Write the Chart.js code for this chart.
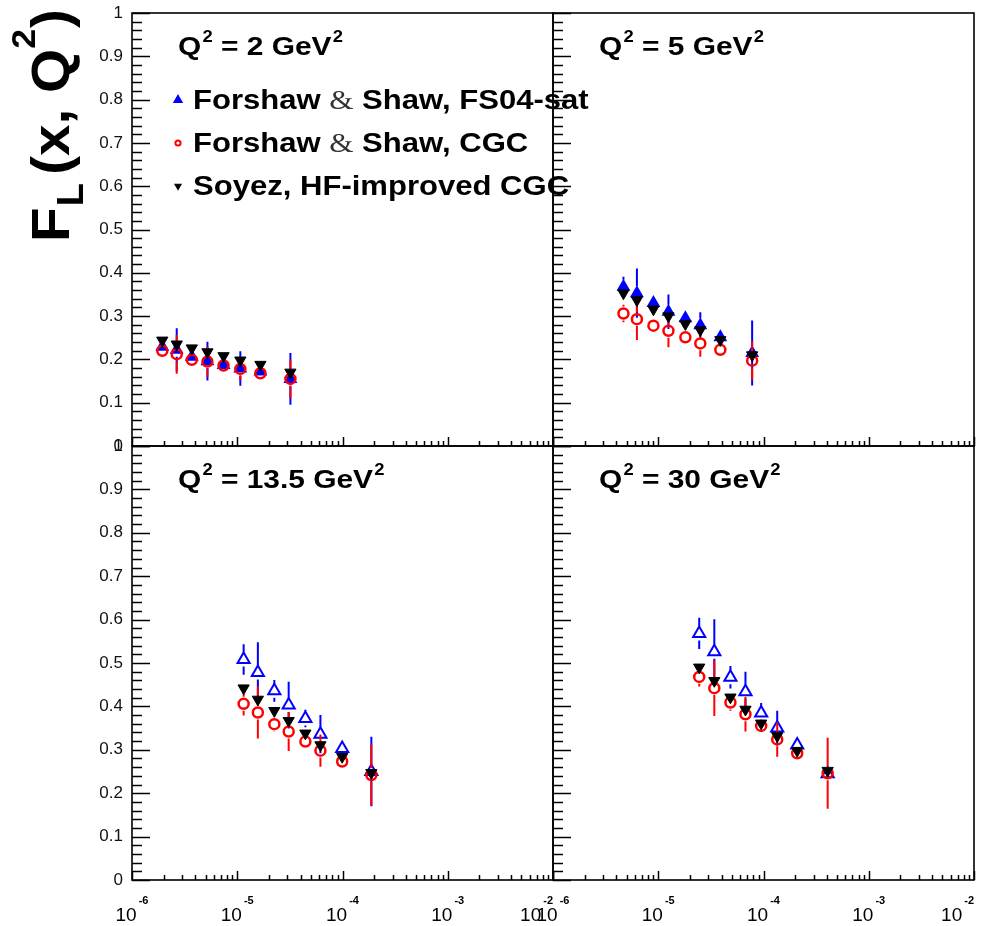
<!DOCTYPE html>
<html>
<head>
<meta charset="utf-8">
<script src="https://cdn.jsdelivr.net/npm/chart.js@4.4.1/dist/chart.umd.min.js"></script>
<style>
  html, body { margin: 0; padding: 0; background: #fff; }
  #wrap { position: relative; width: 984px; height: 926px; overflow: hidden; }
  #wrap canvas { position: absolute; left: 0; top: 0; }
</style>
</head>
<body>
<div id="wrap">
  <canvas id="c1" width="984" height="926"></canvas>
  <canvas id="c2" width="984" height="926"></canvas>
  <canvas id="c3" width="984" height="926"></canvas>
  <canvas id="c4" width="984" height="926"></canvas>
</div>
<script>
// ---- data ----
// Q2 = 2 GeV2
const x_q2 = [1.94e-6, 2.66e-6, 3.70e-6, 5.21e-6, 7.41e-6, 1.07e-5, 1.66e-5, 3.2e-5];
const fs04_q2 = [0.229, 0.222, 0.206, 0.196, 0.187, 0.179, 0.172, 0.155];
const fs04Err_q2 = [0.012, 0.05, 0.012, 0.045, 0.01, 0.04, 0.01, 0.06];
const cgc_q2 = [0.220, 0.212, 0.199, 0.195, 0.186, 0.178, 0.168, 0.155];
const cgcErr_q2 = [0.015, 0.045, 0.012, 0.035, 0.01, 0.026, 0.008, 0.045];
const soyez_q2 = [0.244, 0.235, 0.226, 0.217, 0.208, 0.198, 0.188, 0.170];

// Q2 = 5 GeV2
const x_q5 = [4.67e-6, 6.27e-6, 9.0e-6, 1.25e-5, 1.81e-5, 2.51e-5, 3.89e-5, 7.8e-5];
const fs04_q5 = [0.368, 0.353, 0.330, 0.310, 0.295, 0.279, 0.251, 0.215];
const fs04Err_q5 = [0.023, 0.057, 0.015, 0.04, 0.01, 0.03, 0.012, 0.075];
const cgc_q5 = [0.306, 0.293, 0.278, 0.266, 0.251, 0.237, 0.222, 0.197];
const cgcErr_q5 = [0.02, 0.048, 0.01, 0.038, 0.01, 0.031, 0.01, 0.045];
const soyez_q5 = [0.353, 0.337, 0.316, 0.300, 0.282, 0.268, 0.245, 0.210];

// Q2 = 13.5 GeV2
const x_q13 = [1.15e-5, 1.57e-5, 2.25e-5, 3.08e-5, 4.44e-5, 6.17e-5, 9.93e-5, 1.88e-4];
const fs04_q13 = [0.508, 0.478, 0.436, 0.403, 0.372, 0.336, 0.303, 0.250];
const fs04Err_q13 = [0.035, 0.07, 0.025, 0.054, 0.02, 0.044, 0.016, 0.08];
const cgc_q13 = [0.406, 0.386, 0.359, 0.342, 0.319, 0.298, 0.273, 0.242];
const cgcErr_q13 = [0.027, 0.06, 0.017, 0.045, 0.015, 0.037, 0.01, 0.07];
const soyez_q13 = [0.442, 0.416, 0.390, 0.367, 0.338, 0.311, 0.284, 0.247];

// Q2 = 30 GeV2
const x_q30 = [2.45e-5, 3.41e-5, 4.85e-5, 6.74e-5, 9.5e-5, 1.35e-4, 2.09e-4, 4.07e-4];
const fs04_q30 = [0.568, 0.526, 0.467, 0.434, 0.385, 0.350, 0.311, 0.245];
const fs04Err_q30 = [0.036, 0.075, 0.026, 0.046, 0.023, 0.04, 0.01, 0.015];
const cgc_q30 = [0.468, 0.442, 0.409, 0.382, 0.355, 0.324, 0.292, 0.246];
const cgcErr_q30 = [0.022, 0.064, 0.019, 0.04, 0.01, 0.04, 0.01, 0.082];
const soyez_q30 = [0.490, 0.459, 0.421, 0.393, 0.361, 0.332, 0.298, 0.252];

// axis ticks and labels
const xDecades = [1e-6, 1e-5, 1e-4, 1e-3, 1e-2];
const xDecadeLabels = ['-6', '-5', '-4', '-3', '-2'];
const yMajor = [0, 0.1, 0.2, 0.3, 0.4, 0.5, 0.6, 0.7, 0.8, 0.9, 1];
const yMajorLabels = ['0', '0.1', '0.2', '0.3', '0.4', '0.5', '0.6', '0.7', '0.8', '0.9', '1'];
const seriesNames = ['Forshaw & Shaw, FS04-sat', 'Forshaw & Shaw, CGC', 'Soyez, HF-improved CGC'];
const panelTitles = ['2', '5', '13.5', '30'];

// ---- drawing ----
const W = 984, H = 926;
const GAP = 0.016;      // error bar stops at the marker edge
const SX = 1.15;        // ROOT text looks a bit wide
const SANS = '"Liberation Sans", Arial, Helvetica, sans-serif';

function errorBars(xs, ys, es) {
  const pts = [];
  xs.forEach((x, i) => {
    if (es[i] <= GAP) return;
    pts.push({x: x, y: ys[i] - es[i]}, {x: x, y: ys[i] - GAP}, {x: x, y: null});
    pts.push({x: x, y: ys[i] + GAP}, {x: x, y: ys[i] + es[i]}, {x: x, y: null});
  });
  return pts;
}
const pts = (xs, ys) => xs.map((x, i) => ({x: x, y: ys[i]}));

function rich(ctx, parts, x, y, sx) {
  ctx.save();
  ctx.translate(x, y);
  ctx.scale(sx, 1);
  let cx = 0;
  parts.forEach(p => {
    ctx.font = p.f;
    ctx.fillStyle = p.c || '#000';
    ctx.fillText(p.t, cx, p.dy || 0);
    cx += ctx.measureText(p.t).width + (p.gap || 0);
  });
  ctx.restore();
}

function marker(ctx, style, x, y, r, color, fill, bw, rot) {
  ctx.save();
  ctx.translate(x, y);
  ctx.rotate((rot || 0) * Math.PI / 180);
  ctx.beginPath();
  if (style === 'triangle') {
    for (let k = 0; k < 3; k++) {
      const a = -Math.PI / 2 + k * 2 * Math.PI / 3;
      const px = Math.cos(a) * r, py = Math.sin(a) * r;
      k ? ctx.lineTo(px, py) : ctx.moveTo(px, py);
    }
    ctx.closePath();
  } else {
    ctx.arc(0, 0, r, 0, Math.PI * 2);
  }
  ctx.lineWidth = bw;
  ctx.strokeStyle = color;
  if (fill) { ctx.fillStyle = color; ctx.fill(); }
  ctx.stroke();
  ctx.restore();
}

function rootAxes(panel) {
  return {
    id: 'rootAxes' + panel.id,
    afterDraw(chart) {
      const {ctx, chartArea: a, scales: {x, y}} = chart;
      ctx.save();
      ctx.strokeStyle = '#000';
      ctx.lineWidth = 1.6;
      ctx.strokeRect(a.left, a.top, a.right - a.left, a.bottom - a.top);

      // y ticks, inward on the left edge
      ctx.lineWidth = 1.5;
      for (let k = 0; k <= 50; k++) {
        const py = Math.round(y.getPixelForValue(k / 50)) + 0.5;
        const len = k % 5 === 0 ? 18 : 10;
        ctx.beginPath(); ctx.moveTo(a.left, py); ctx.lineTo(a.left + len, py); ctx.stroke();
      }
      // x ticks, inward on the bottom edge
      xDecades.forEach((d, i) => {
        for (let m = 1; m <= 9; m++) {
          if (m > 1 && i === xDecades.length - 1) break;
          const px = Math.round(x.getPixelForValue(d * m)) + 0.5;
          const len = m === 1 ? 9 : 5;
          ctx.beginPath(); ctx.moveTo(px, a.bottom); ctx.lineTo(px, a.bottom - len); ctx.stroke();
        }
      });

      // y labels on left panels
      if (panel.left) {
        ctx.font = '17px ' + SANS;
        ctx.fillStyle = '#111';
        ctx.textAlign = 'right';
        ctx.textBaseline = 'middle';
        yMajor.forEach((v, i) => ctx.fillText(yMajorLabels[i], a.left - 9, y.getPixelForValue(v)));
        ctx.textAlign = 'left';
        ctx.textBaseline = 'alphabetic';
      }
      // x labels on bottom panels
      if (panel.bottom) {
        xDecades.forEach((d, i) => {
          const px = x.getPixelForValue(d);
          ctx.font = '19px ' + SANS;
          const w1 = ctx.measureText('10').width;
          ctx.font = 'bold 11px ' + SANS;
          const w2 = ctx.measureText(xDecadeLabels[i]).width;
          const tot = w1 + 2 + w2;
          let x0 = px - tot / 2;
          if (i === xDecades.length - 1) x0 = a.right - tot;
          rich(ctx, [
            {t: '10', f: '19px ' + SANS, gap: 2},
            {t: xDecadeLabels[i], f: 'bold 11px ' + SANS, dy: -17}
          ], x0, 921, 1);
        });
      }

      // panel title
      const tf = 'bold 26px ' + SANS, sf = 'bold 16px ' + SANS;
      rich(ctx, [
        {t: 'Q', f: tf, gap: 1},
        {t: '2', f: sf, dy: -13},
        {t: ' = ' + panelTitles[panel.n] + ' GeV', f: tf, gap: 1},
        {t: '2', f: sf, dy: -13}
      ], a.left + 46, a.top + 42, SX);

      if (panel.legend) {
        const lf = 'bold 27px ' + SANS, amp = '27px "Liberation Serif", "Times New Roman", serif';
        const rows = [a.top + 96, a.top + 139, a.top + 182];
        rows.forEach((ry, i) => {
          const name = seriesNames[i];
          const parts = name.indexOf('&') >= 0
            ? [{t: name.split('&')[0], f: lf}, {t: '&', f: amp, c: '#333'}, {t: name.split('&')[1], f: lf}]
            : [{t: name, f: lf}];
          rich(ctx, parts, a.left + 61, ry, SX);
        });
        marker(ctx, 'triangle', a.left + 46, rows[0] - 9, 4.5, '#0000ff', true, 1.5, 0);
        marker(ctx, 'circle', a.left + 46, rows[1] - 9, 2.6, '#ff0000', false, 2, 0);
        marker(ctx, 'triangle', a.left + 46, rows[2] - 9, 3.5, '#000', true, 1.2, 180);
      }

      // axis title
      if (panel.n === 0) {
        ctx.save();
        ctx.translate(69, 242);
        ctx.rotate(-Math.PI / 2);
        rich(ctx, [
          {t: 'F', f: 'bold 54px ' + SANS, gap: 1},
          {t: 'L', f: 'bold 36px ' + SANS, dy: 14, gap: 8},
          {t: '(x, Q', f: 'bold 54px ' + SANS},
          {t: '2', f: 'bold 34px ' + SANS, dy: -34, gap: 1},
          {t: ')', f: 'bold 54px ' + SANS}
        ], 0, 0, 1.05);
        ctx.restore();
      }
      ctx.restore();
    }
  };
}

const panels = [
  {id: 'c1', n: 0, box: [132, 13, 553, 446], left: true, bottom: false, legend: true,
   xs: x_q2, fs: fs04_q2, fsE: fs04Err_q2, cg: cgc_q2, cgE: cgcErr_q2, so: soyez_q2},
  {id: 'c2', n: 1, box: [553, 13, 974, 446], left: false, bottom: false, legend: false,
   xs: x_q5, fs: fs04_q5, fsE: fs04Err_q5, cg: cgc_q5, cgE: cgcErr_q5, so: soyez_q5},
  {id: 'c3', n: 2, box: [132, 446, 553, 880], left: true, bottom: true, legend: false,
   xs: x_q13, fs: fs04_q13, fsE: fs04Err_q13, cg: cgc_q13, cgE: cgcErr_q13, so: soyez_q13},
  {id: 'c4', n: 3, box: [553, 446, 974, 880], left: false, bottom: true, legend: false,
   xs: x_q30, fs: fs04_q30, fsE: fs04Err_q30, cg: cgc_q30, cgE: cgcErr_q30, so: soyez_q30}
];

panels.forEach(p => {
  const top = !p.bottom;
  new Chart(document.getElementById(p.id), {
    type: 'line',
    data: {
      datasets: [
        {data: pts(p.xs, p.so), showLine: false, pointStyle: 'triangle', pointRotation: 180,
         pointRadius: 6.5, pointBorderWidth: 1, pointBackgroundColor: '#000', pointBorderColor: '#000'},
        {data: pts(p.xs, p.cg), showLine: false, pointStyle: 'circle', pointRadius: 5,
         pointBorderWidth: 2.5, pointBackgroundColor: 'rgba(0,0,0,0)', pointBorderColor: '#ff0000'},
        {data: errorBars(p.xs, p.cg, p.cgE), showLine: true, spanGaps: false, pointRadius: 0,
         borderColor: '#ff0000', borderWidth: 2},
        {data: pts(p.xs, p.fs), showLine: false, pointStyle: 'triangle', pointRadius: top ? 6 : 7,
         pointBorderWidth: 2, pointBackgroundColor: top ? '#0000ff' : 'rgba(0,0,0,0)', pointBorderColor: '#0000ff'},
        {data: errorBars(p.xs, p.fs, p.fsE), showLine: true, spanGaps: false, pointRadius: 0,
         borderColor: '#0000ff', borderWidth: 2}
      ]
    },
    options: {
      responsive: false,
      animation: false,
      devicePixelRatio: 1,
      layout: {padding: {left: p.box[0], top: p.box[1], right: W - p.box[2], bottom: H - p.box[3]}},
      plugins: {legend: {display: false}, tooltip: {enabled: false}},
      scales: {
        x: {type: 'logarithmic', min: 1e-6, max: 1e-2, display: false},
        y: {type: 'linear', min: 0, max: 1, display: false}
      }
    },
    plugins: [rootAxes(p)]
  });
});
</script>
</body>
</html>
